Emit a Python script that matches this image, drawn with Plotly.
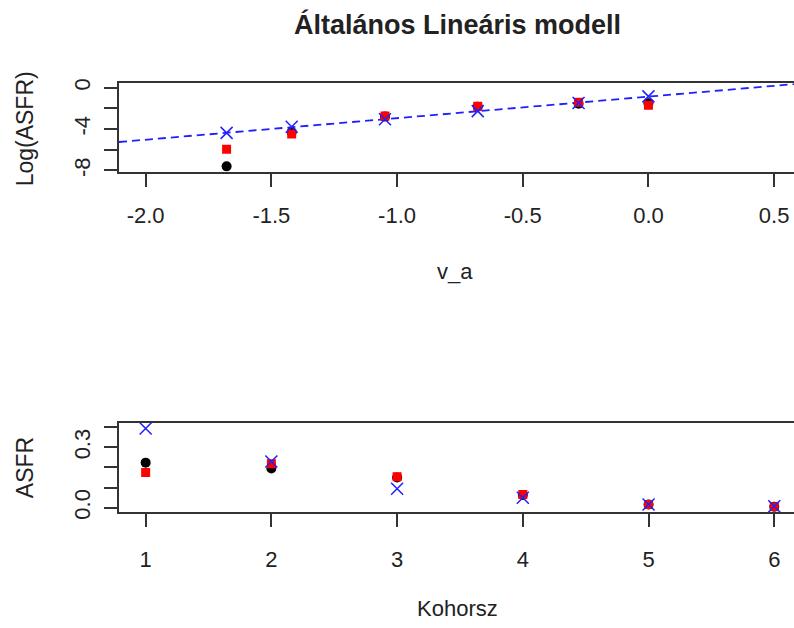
import plotly.graph_objects as go

# ---- data: top panel (log scale) ----
v_a = [-1.678, -1.419, -1.048, -0.679, -0.278, 0.0]
log_obs = [-7.6, -4.3, -2.8, -1.85, -1.55, -1.5]
log_red = [-5.94, -4.47, -2.74, -1.79, -1.42, -1.70]
log_blue = [-4.37, -3.78, -3.05, -2.27, -1.48, -0.85]
fit_intercept = -0.87
fit_slope = 2.08

# ---- data: bottom panel ----
kohorsz = [1, 2, 3, 4, 5, 6]
asfr_obs = [0.224, 0.195, 0.150, 0.063, 0.016, 0.005]
asfr_red = [0.175, 0.219, 0.154, 0.065, 0.016, 0.005]
asfr_blue = [0.394, 0.230, 0.094, 0.049, 0.016, 0.007]

top_xticks = [-2.0, -1.5, -1.0, -0.5, 0.0, 0.5]
top_xtext = ["-2.0", "-1.5", "-1.0", "-0.5", "0.0", "0.5"]
top_yticks = [0, -2, -4, -6, -8]
top_ytext = ["0", "", "-4", "", "-8"]
bot_xticks = [1, 2, 3, 4, 5, 6]
bot_xtext = ["1", "2", "3", "4", "5", "6"]
bot_yticks = [0.0, 0.1, 0.2, 0.3, 0.4]
bot_ytext = ["0.0", "", "", "0.3", ""]

W, H = 794, 628
FONT = "Liberation Sans, Arial, sans-serif"
AX = "#333333"
BLUE = "#2020ff"

top_xrange = [-2.106, 0.579]
top_yrange = [-8.19, 0.41]
bot_xrange = [0.788, 6.157]
bot_yrange = [-0.0214, 0.4218]

def py(px):
    return 1 - px / H

fig = go.Figure()

def add_points(x, y_obs, y_red, y_blue, xa, ya):
    fig.add_trace(go.Scatter(x=x, y=y_obs, mode="markers", xaxis=xa, yaxis=ya,
                             marker=dict(symbol="circle", size=10, color="black"),
                             showlegend=False, hoverinfo="skip"))
    fig.add_trace(go.Scatter(x=x, y=y_red, mode="markers", xaxis=xa, yaxis=ya,
                             marker=dict(symbol="square", size=9, color="red"),
                             showlegend=False, hoverinfo="skip"))
    fig.add_trace(go.Scatter(x=x, y=y_blue, mode="markers", xaxis=xa, yaxis=ya,
                             marker=dict(symbol="x-thin-open", size=12, color=BLUE,
                                         line=dict(color=BLUE, width=1.5)),
                             showlegend=False, hoverinfo="skip"))

# fitted dashed line in top panel
line_x = top_xrange
line_y = [fit_intercept + fit_slope * x for x in line_x]
fig.add_trace(go.Scatter(x=line_x, y=line_y, mode="lines", xaxis="x", yaxis="y",
                         line=dict(color=BLUE, width=1.8, dash="8px,5px"),
                         showlegend=False, hoverinfo="skip"))
add_points(v_a, log_obs, log_red, log_blue, "x", "y")
add_points(kohorsz, asfr_obs, asfr_red, asfr_blue, "x2", "y2")

axis_common = dict(showgrid=False, zeroline=False, showline=True, linecolor=AX,
                   linewidth=1.5, ticks="outside", ticklen=13, tickwidth=1.5,
                   tickcolor=AX, tickfont=dict(family=FONT, size=22, color="#222"))

x0 = 119 / W
fig.update_layout(
    width=W, height=H, margin=dict(l=0, r=0, t=0, b=0),
    paper_bgcolor="white", plot_bgcolor="white",
    xaxis=dict(domain=[x0, 1], range=top_xrange, anchor="y", mirror=True,
               tickvals=top_xticks, ticktext=top_xtext, ticklabelstandoff=9, **axis_common),
    yaxis=dict(domain=[py(171), py(80)], range=top_yrange, anchor="x",
               tickvals=top_yticks, ticktext=top_ytext, tickangle=-90,
               ticklabelstandoff=5, **axis_common),
    xaxis2=dict(domain=[x0, 1], range=bot_xrange, anchor="y2", mirror=True,
                tickvals=bot_xticks, ticktext=bot_xtext, ticklabelstandoff=14, **axis_common),
    yaxis2=dict(domain=[py(517.7), py(426.7)], range=bot_yrange, anchor="x2",
                tickvals=bot_yticks, ticktext=bot_ytext, tickangle=-90,
                ticklabelstandoff=5, **axis_common),
)

def ann(text, xpx, ypx, size=22, angle=0):
    fig.add_annotation(text=text, x=xpx / W, y=py(ypx), xref="paper", yref="paper",
                       showarrow=False, textangle=angle, xanchor="center", yanchor="middle",
                       font=dict(family=FONT, size=size, color="#222"))

ann("<b>Általános Lineáris modell</b>", 457, 20, size=27)
ann("v_a", 455, 272)
ann("Kohorsz", 458, 616)
ann("Log(ASFR)", 25, 127, size=23, angle=-90)
ann("ASFR", 25, 473, size=23, angle=-90)

fig.write_html("out.html")
